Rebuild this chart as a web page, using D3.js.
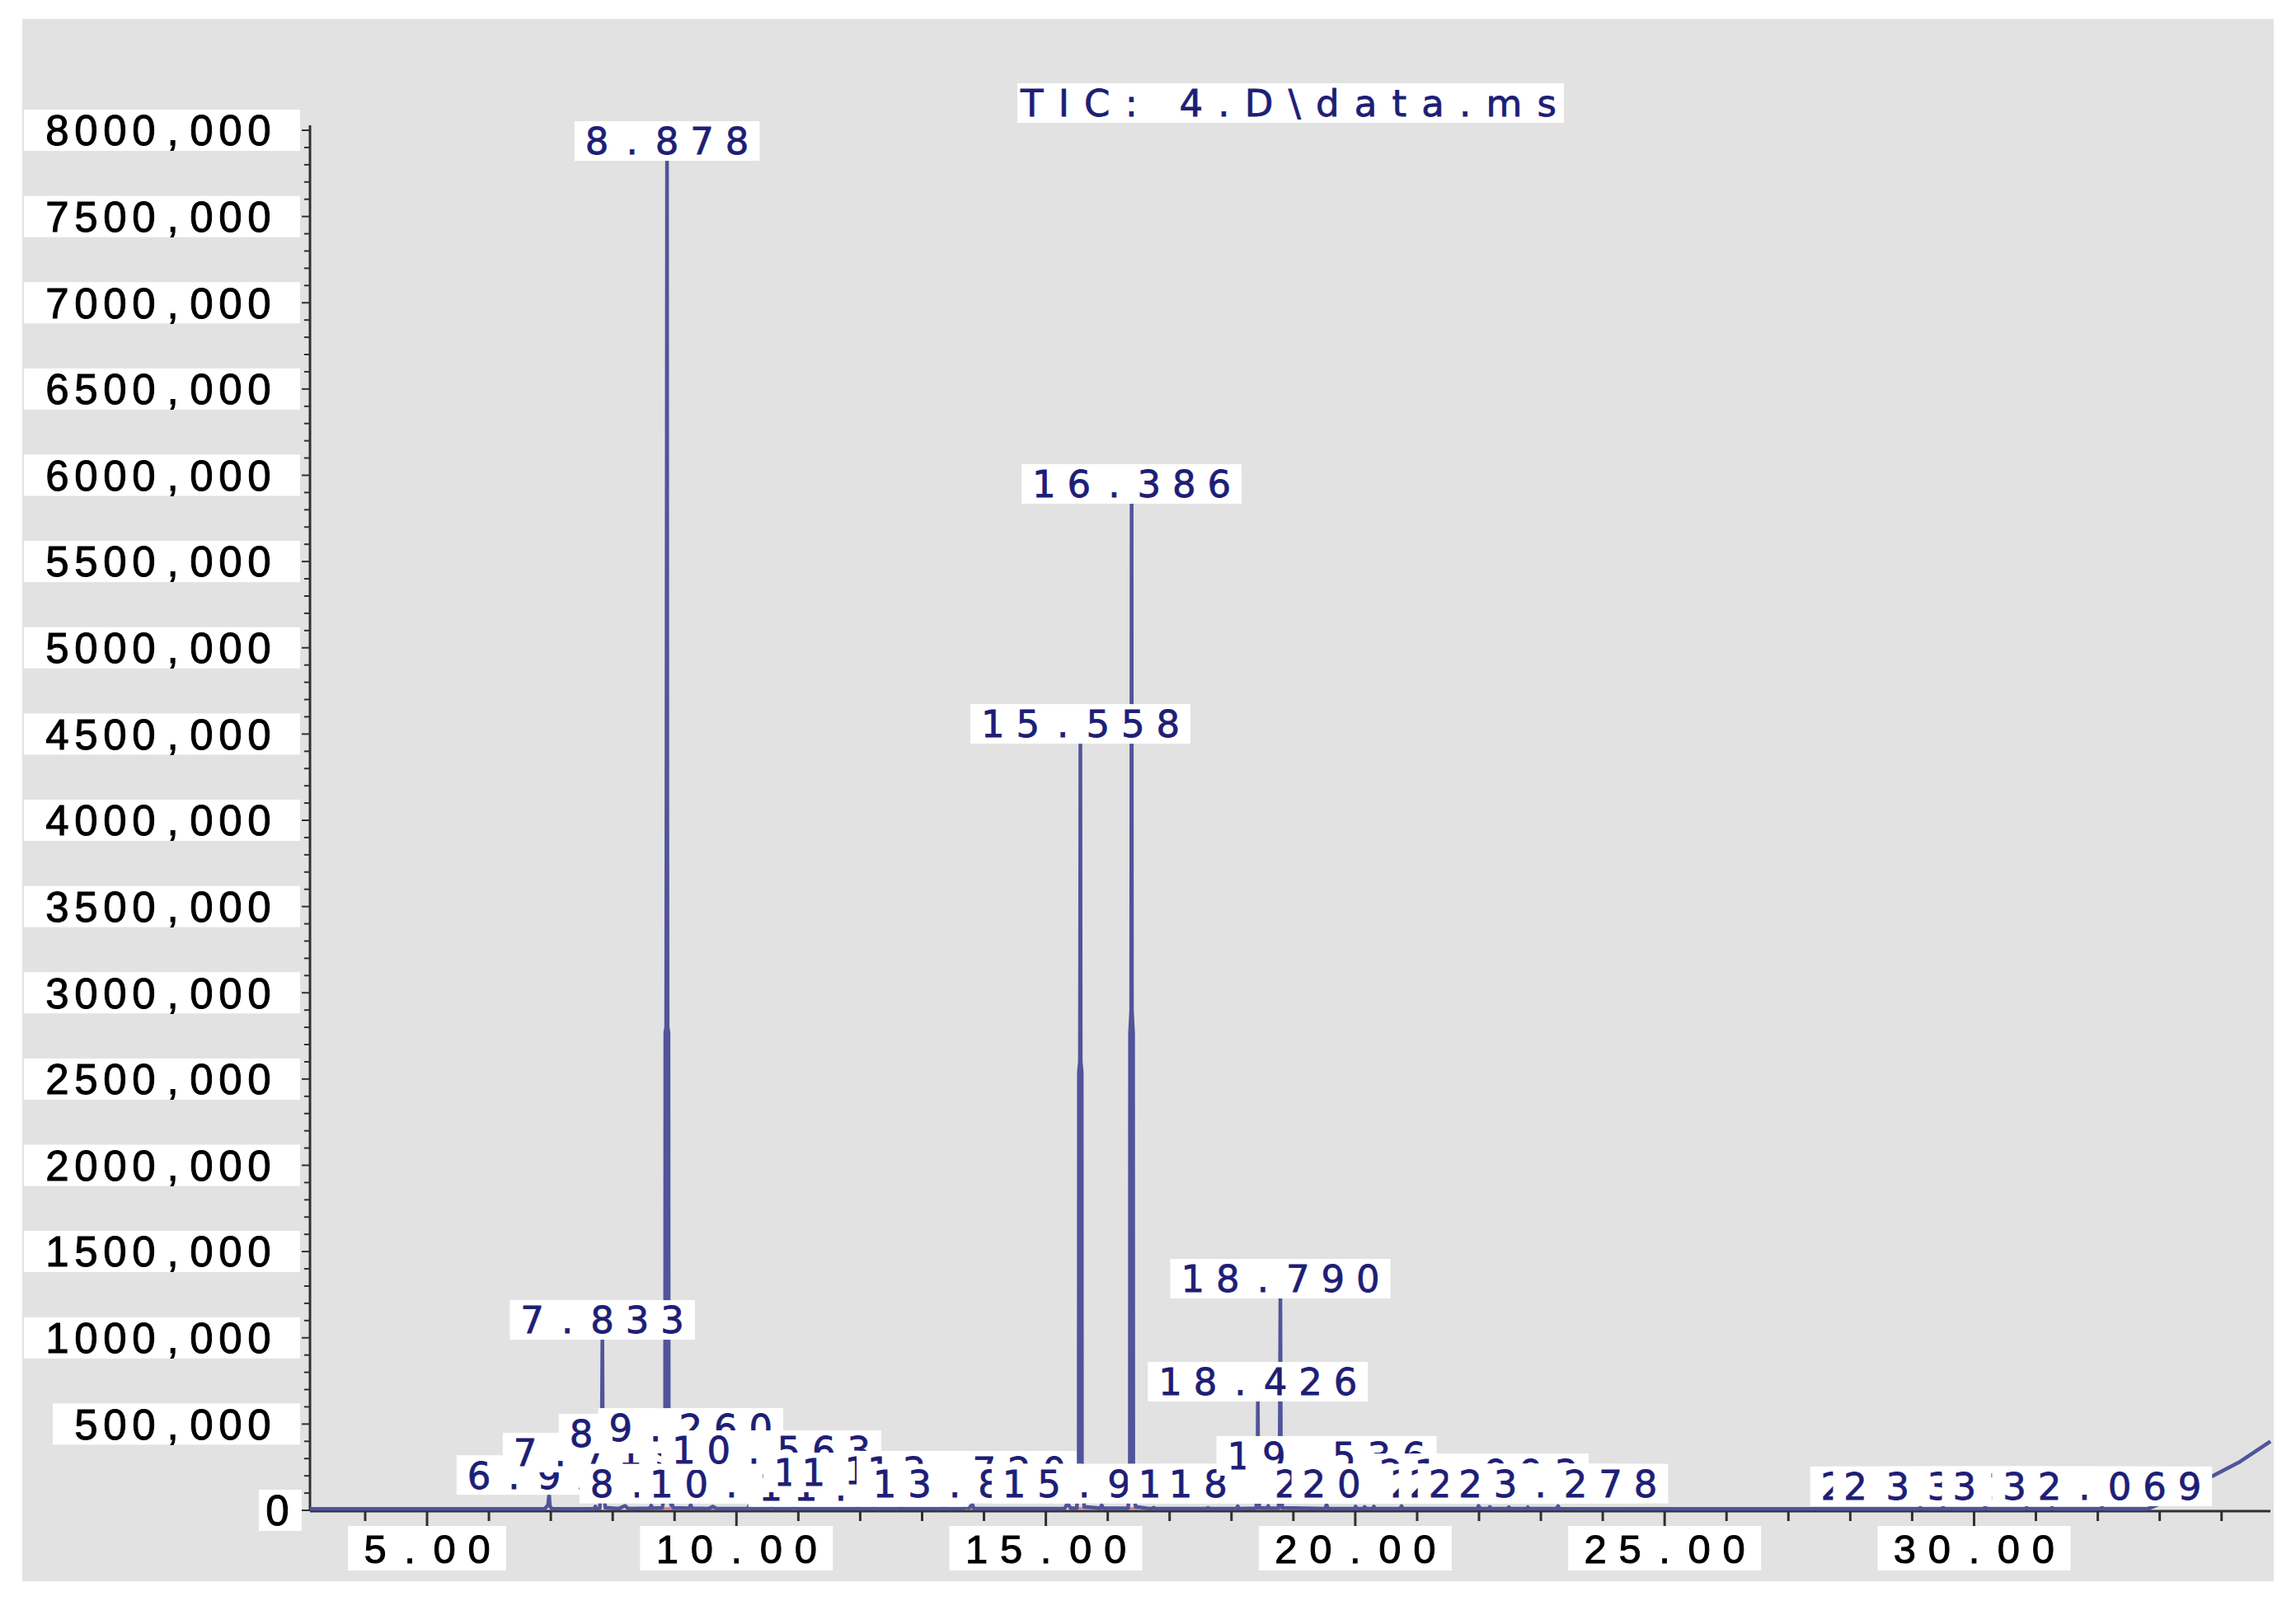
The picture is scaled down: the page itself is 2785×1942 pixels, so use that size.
<!DOCTYPE html>
<html><head><meta charset="utf-8">
<script src="https://cdn.jsdelivr.net/npm/d3@7"></script>
<style>html,body{margin:0;padding:0;background:#fff;}svg{display:block}text{white-space:pre}</style>
</head><body>
<svg id="chart" width="2785" height="1942"></svg>
<script>
// ---------- data ----------
const titleText = "TIC: 4.D\\data.ms";

// trace points: retention time (min) and abundance
const traceTime = [3.108,6.90,6.955,6.972,6.985,7.02,7.70,7.719,7.74,7.79,7.815,7.826,7.833,7.838,7.85,7.88,
  8.10,8.20,8.25,8.60,8.623,8.64,8.80,8.846,8.850,8.864,8.868,8.878,8.884,8.888,8.902,8.906,8.945,8.958,8.98,
  9.24,9.260,9.28,9.55,9.62,9.68,10.18,10.204,10.23,10.54,10.563,10.59,10.88,10.92,10.96,
  11.95,11.970,11.99,12.19,12.208,12.23,12.64,12.662,12.68,13.33,13.354,13.38,13.68,13.703,13.75,13.812,13.84,
  15.30,15.35,15.40,15.50,15.531,15.534,15.550,15.553,15.558,15.562,15.564,15.580,15.583,15.62,15.88,15.903,15.93,
  16.33,16.357,16.360,16.379,16.386,16.391,16.410,16.413,16.45,16.70,16.74,16.78,17.58,17.62,17.66,
  18.08,18.101,18.12,18.40,18.418,18.426,18.433,18.45,18.575,18.594,18.61,18.76,18.778,18.790,18.799,18.82,
  19.51,19.536,19.56,19.99,20.004,20.03,20.13,20.152,20.18,20.28,20.301,20.33,20.72,20.748,20.77,
  21.97,21.993,22.02,22.155,22.176,22.20,22.46,22.482,22.51,22.77,22.789,22.81,23.25,23.278,23.30,
  29.11,29.13,29.15,29.48,29.50,29.52,30.16,30.18,30.20,30.83,30.85,30.87,31.24,31.26,31.28,
  32.05,32.069,32.09,32.8,33.3,33.86,34.3,34.79];
const traceValue = [8000,8000,30000,90000,25000,8000,8000,22000,9000,10000,150000,600000,989000,600000,150000,15000,
  10000,26000,10000,12000,28000,12000,14000,100000,2770000,2800000,3780000,7823000,3780000,2800000,2770000,100000,30000,36000,14000,
  12000,32000,12000,10000,22000,10000,10000,26000,10000,12000,34000,10000,9000,18000,9000,
  9000,18000,9000,9000,24000,9000,9000,20000,9000,9000,20000,9000,10000,26000,12000,32000,10000,
  9000,40000,12000,12000,200000,2540000,2600000,3170000,4444000,3170000,2600000,2540000,200000,20000,12000,30000,12000,
  12000,200000,2760000,2900000,5835000,2900000,2760000,200000,20000,9000,16000,9000,9000,14000,9000,
  9000,24000,9000,12000,200000,631000,200000,14000,12000,26000,12000,12000,300000,1228000,300000,14000,
  10000,32000,10000,9000,22000,9000,9000,20000,9000,9000,22000,9000,9000,24000,9000,
  9000,26000,9000,9000,20000,9000,9000,18000,9000,9000,18000,9000,9000,24000,9000,
  8000,16000,8000,8000,18000,8000,8000,20000,8000,8000,16000,8000,8000,16000,8000,
  8000,18000,8000,8000,80000,200000,282000,400000];

// integration marks along the baseline (start, end in min)
const markStart = [8.3,9.1,12.5,13.4,15.4,16.2,17.6,19.4,21.6,29.5,31.2];
const markEnd   = [9.0,10.9,13.0,14.0,15.7,16.5,18.6,21.4,22.6,30.8,31.5];

// peak labels: anchor time, anchor abundance (label sits on it), text
const labelTime  = [6.972,7.719,7.833,8.623,8.878,8.958,9.260,10.204,10.563,11.970,12.208,12.662,13.354,13.720,13.812,
  15.558,15.903,16.386,18.101,18.426,18.594,18.790,19.536,20.004,20.152,20.301,20.748,21.993,22.176,22.482,22.789,23.278,
  29.13,29.50,30.18,30.85,31.26,32.069];
const labelValue = [90000,220000,989000,330000,7823000,40000,363000,40000,234000,20000,105000,105000,115000,115000,40000,
  4444000,40000,5835000,40000,631000,40000,1228000,201000,40000,40000,40000,40000,100000,40000,40000,40000,40000,
  25000,25000,25000,25000,25000,25000];
const labelText  = ["6.972","7.719","7.833","8.623","8.878","8.958","9.260","10.204","10.563","11.970","12.208","12.662","13.354","13.720","13.812",
  "15.558","15.903","16.386","18.101","18.426","18.594","18.790","19.536","20.004","20.152","20.301","20.748","21.993","22.176","22.482","22.789","23.278",
  "29.130","29.500","30.180","30.850","31.260","32.069"];

// axes
const xTicksMajor = [5,10,15,20,25,30];
const xTickLabels = ["5.00","10.00","15.00","20.00","25.00","30.00"];
const yTicksMajor = d3.range(0, 8000001, 500000);
const yTickLabels = yTicksMajor.map(v => v === 0 ? "0" : (v/1000) + ",000");

// ---------- drawing ----------
const svg = d3.select("#chart");
const FONT = "'Liberation Sans', Arial, sans-serif";
const LFONT = "'DejaVu Sans', Verdana, sans-serif";
const NAVY = "#1e1e76";
const x = d3.scaleLinear().domain([3.108, 34.79]).range([376, 2754]);
const y = d3.scaleLinear().domain([0, 8000000]).range([1832, 158]);

// draws text with each character centred in a fixed-width cell; skip(i) hides a fully covered character
function cellText(g, str, left, cy, cell, size, fill, font, capRatio, sw, skip) {
  const t = g.append("text").attr("font-family", font).attr("font-size", size)
    .attr("fill", fill).attr("stroke", fill).attr("stroke-width", sw).attr("text-anchor", "middle");
  str.split("").forEach((ch, i) => {
    if (skip && skip(i)) return;
    t.append("tspan").attr("x", left + (i + 0.5) * cell).attr("y", cy + capRatio / 2 * size).text(ch);
  });
  return t;
}

svg.append("rect").attr("width", 2785).attr("height", 1942).attr("fill", "#fff");
svg.append("rect").attr("x", 27).attr("y", 23).attr("width", 2731).attr("height", 1895).attr("fill", "#e2e2e2");

// title
const tg = svg.append("g");
tg.append("rect").attr("x", 1234).attr("y", 101).attr("width", 663).attr("height", 48).attr("fill", "#fff");
tg.append("text").attr("x", 1238).attr("y", 125 + 0.364 * 45).attr("font-family", LFONT).attr("font-size", 45)
  .attr("fill", NAVY).attr("stroke", NAVY).attr("stroke-width", 0.8)
  .attr("textLength", 650).attr("lengthAdjust", "spacing").text(titleText);

// y axis labels
const yl = svg.append("g");
yTicksMajor.forEach((v, i) => {
  const s = yTickLabels[i];
  const cell = 35;
  const right = v === 0 ? 354 : 332;
  const left = right - s.length * cell;
  const bl = v === 0 ? left - 5 : left - 23;
  yl.append("rect").attr("x", bl).attr("y", y(v) - 25).attr("width", (v === 0 ? 366 : 364) - bl)
    .attr("height", 50).attr("fill", "#fff");
  cellText(yl, s, left, y(v), cell, 51, "#000", FONT, 0.716, 1.0);
});

// y axis
const ax = svg.append("g").attr("stroke", "#303030");
ax.append("line").attr("x1", 376).attr("x2", 376).attr("y1", 152).attr("y2", y(0) + 1).attr("stroke-width", 3);
d3.range(0, 8000001, 100000).forEach(v => {
  const len = v % 500000 === 0 ? 10 : 7;
  ax.append("line").attr("x1", 376 - len).attr("x2", 376).attr("y1", y(v)).attr("y2", y(v)).attr("stroke-width", 2);
});
// x axis
ax.append("line").attr("x1", 376).attr("x2", 2754).attr("y1", 1833).attr("y2", 1833).attr("stroke-width", 3);
d3.range(4, 35, 1).forEach(t => {
  const len = t % 5 === 0 ? 24 : 12;
  ax.append("line").attr("x1", x(t)).attr("x2", x(t)).attr("y1", 1833).attr("y2", 1833 + len).attr("stroke-width", 3);
});

// x labels
const xl = svg.append("g");
xTicksMajor.forEach((t, i) => {
  const s = xTickLabels[i];
  const cell = 42;
  const w = s.length * cell;
  xl.append("rect").attr("x", x(t) - w / 2 - 12).attr("y", 1851).attr("width", w + 24).attr("height", 54).attr("fill", "#fff");
  cellText(xl, s, x(t) - w / 2, 1878, cell, 49, "#000", FONT, 0.716, 1.0);
});

// integration marks
const mk = svg.append("g").attr("stroke", "#c84f80").attr("stroke-width", 2.5).attr("opacity", 0.75);
markStart.forEach((s, i) => {
  mk.append("line").attr("x1", x(s)).attr("x2", x(markEnd[i])).attr("y1", y(12000)).attr("y2", y(12000));
});

// trace
const pts = traceTime.map((t, i) => [t, traceValue[i]]);
const line = d3.line().x(d => x(d[0])).y(d => y(d[1]));
svg.append("path").datum(pts).attr("d", line).attr("fill", "none")
  .attr("stroke", "#50549a").attr("stroke-width", 4.5).attr("stroke-linejoin", "round");

// peak labels (drawn in retention-time order, later ones cover earlier ones)
const CELL = 42.5, LH = 48;
const boxes = labelTime.map((t, i) => {
  const w = labelText[i].length * CELL + 12;
  return { x0: x(t) - w / 2, y0: y(labelValue[i]) - LH, x1: x(t) + w / 2, y1: y(labelValue[i]) };
});
function coveredByLater(i, gx0, gy0, gx1, gy1) {
  for (let a = 0; a <= 4; a++) for (let b = 0; b <= 4; b++) {
    const px = gx0 + (gx1 - gx0) * a / 4, py = gy0 + (gy1 - gy0) * b / 4;
    let hit = false;
    for (let j = i + 1; j < boxes.length; j++) {
      const q = boxes[j];
      if (px >= q.x0 && px <= q.x1 && py >= q.y0 && py <= q.y1) { hit = true; break; }
    }
    if (!hit) return false;
  }
  return true;
}
const lg = svg.append("g");
labelTime.forEach((t, i) => {
  const b = boxes[i];
  lg.append("rect").attr("x", b.x0).attr("y", b.y0).attr("width", b.x1 - b.x0).attr("height", LH).attr("fill", "#fff");
  const left = b.x0 + 6, cy = b.y0 + LH / 2;
  cellText(lg, labelText[i], left, cy, CELL, 45, NAVY, LFONT, 0.729, 0.8,
    k => coveredByLater(i, left + k * CELL + 6, cy - 16, left + (k + 1) * CELL - 6, cy + 16));
});
</script>
</body></html>
